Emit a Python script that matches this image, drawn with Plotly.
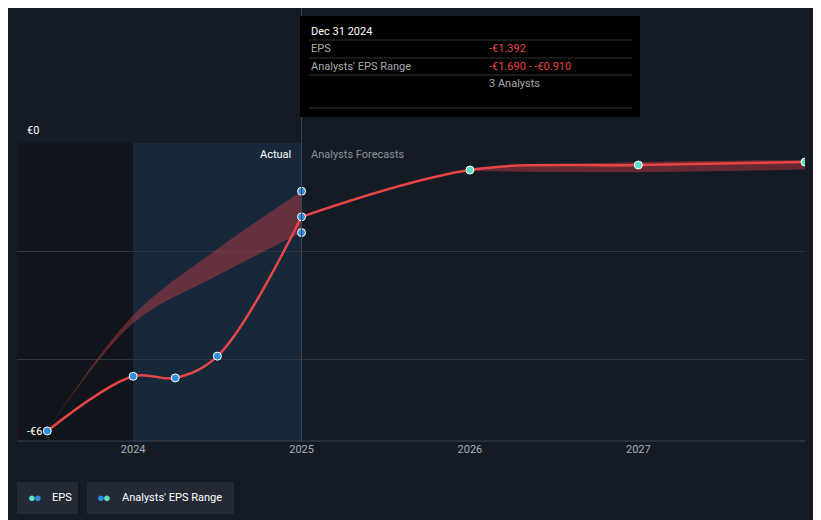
import plotly.graph_objects as go

act_x = [2023.49, 2024.0, 2024.25, 2024.5, 2025.0]
act_y = [-5.43, -4.40, -4.43, -4.02, -1.392]
fc_x = [2025.0, 2026.0, 2027.0, 2027.99]
fc_y = [-1.392, -0.51, -0.415, -0.36]
rng_x = [2023.49, 2024.0, 2024.5, 2025.0]
rng_hi = [-5.43, -3.25, -2.0, -0.91]
rng_lo = [-5.43, -3.4, -2.5, -1.69]
fc_rng_x = [2026.0, 2027.0, 2027.99]
fc_rng_hi = [-0.47, -0.36, -0.32]
fc_rng_lo = [-0.53, -0.55, -0.5]
tick_vals = [2024, 2025, 2026, 2027]
tick_text = ["2024", "2025", "2026", "2027"]

fig = go.Figure()
bg = "#151b24"
band = "rgba(200,60,70,0.45)"
fig.add_trace(go.Scatter(x=rng_x, y=rng_hi, mode="lines", line=dict(width=0, shape="spline"), hoverinfo="skip"))
fig.add_trace(go.Scatter(x=rng_x, y=rng_lo, mode="lines", line=dict(width=0, shape="spline"), fill="tonexty",
                         fillcolor=band, hoverinfo="skip"))
fig.add_trace(go.Scatter(x=fc_rng_x, y=fc_rng_hi, mode="lines", line=dict(width=0, shape="spline"), hoverinfo="skip"))
fig.add_trace(go.Scatter(x=fc_rng_x, y=fc_rng_lo, mode="lines", line=dict(width=0, shape="spline"), fill="tonexty",
                         fillcolor=band, hoverinfo="skip"))
fig.add_trace(go.Scatter(x=act_x, y=act_y, mode="lines", line=dict(color="#e84545", width=2.5, shape="spline")))
fig.add_trace(go.Scatter(x=fc_x, y=fc_y, mode="lines", line=dict(color="#e84545", width=2.5, shape="spline")))
fig.add_trace(go.Scatter(x=act_x + [2025.0, 2025.0], y=act_y + [rng_hi[3], rng_lo[3]], mode="markers",
                         marker=dict(color="#2f8fe0", size=8, line=dict(color="white", width=1))))
fig.add_trace(go.Scatter(x=fc_x[1:], y=fc_y[1:], mode="markers",
                         marker=dict(color="#5ee0c8", size=8, line=dict(color="white", width=1))))

W, H = 788, 298
def px(p): return (p - 17) / W
def py(p): return (441 - p) / H

shapes = [
    dict(type="rect", xref="x", yref="paper", x0=2023.0, x1=2024.0, y0=0, y1=1, fillcolor="#10151c", line_width=0, layer="below"),
    dict(type="rect", xref="x", yref="paper", x0=2024.0, x1=2025.0, y0=0, y1=1, fillcolor="#17283a", line_width=0, layer="below"),
    dict(type="line", xref="x", yref="paper", x0=2025.0, x1=2025.0, y0=0, y1=py(8), line=dict(color="#3a4552", width=1)),
    dict(type="line", xref="paper", yref="paper", x0=0, x1=1, y0=0, y1=0, line=dict(color="#3a4552", width=1)),
    dict(type="rect", xref="paper", yref="paper", x0=px(300), x1=px(640), y0=py(117), y1=py(16),
         fillcolor="black", line_width=0),
]
for yy in [40, 58, 75, 108]:
    shapes.append(dict(type="line", xref="paper", yref="paper", x0=px(309), x1=px(632),
                       y0=py(yy), y1=py(yy), line=dict(color="#333", width=1)))
shapes += [
    dict(type="rect", xref="paper", yref="paper", x0=0, x1=px(78), y0=py(514), y1=py(482), fillcolor="#232a35", line_width=0),
    dict(type="rect", xref="paper", yref="paper", x0=px(87), x1=px(234), y0=py(514), y1=py(482), fillcolor="#232a35", line_width=0),
]

def ann(x, y, text, color="#c8ccd2", size=11, xanchor="left"):
    return dict(xref="paper", yref="paper", x=px(x), y=py(y), text=text, showarrow=False,
                font=dict(color=color, size=size, family="Roboto"), xanchor=xanchor, yanchor="middle")

anns = [
    ann(309, 31, "Dec 31 2024", "white"),
    ann(309, 49, "EPS", "#aaa"), ann(487, 49, "-€1.392", "#e84545"),
    ann(309, 66, "Analysts' EPS Range", "#aaa"), ann(487, 66, "-€1.690 - -€0.910", "#e84545"),
    ann(487, 83, "3 Analysts", "#aaa"),
    ann(293, 154, "Actual", "white", xanchor="right"),
    ann(309, 154, "Analysts Forecasts", "#8a929c"),
    ann(25, 130, "€0", "white"), ann(25, 431, "-€6", "white"),
    ann(50, 497, "EPS", "white"), ann(120, 497, "Analysts' EPS Range", "white"),
    ann(26, 497, "<span style='color:#5ee0c8'>●</span>", size=13), ann(32, 497, "<span style='color:#2f8fe0'>●</span>", size=13),
    ann(95, 497, "<span style='color:#2f8fe0'>●</span>", size=13), ann(101, 497, "<span style='color:#5ee0c8'>●</span>", size=13),
]

fig.update_layout(
    width=821, height=520, paper_bgcolor=bg, plot_bgcolor=bg,
    margin=dict(l=9, r=24, t=135, b=87),
    xaxis=dict(range=[2023.31, 2027.99], tickvals=tick_vals, ticktext=tick_text, showgrid=False, zeroline=False,
               tickfont=dict(color="#aab0b8", size=11, family="Roboto"), ticks=""),
    yaxis=dict(range=[-5.62, 0], tickvals=[0, -2.04, -4.09], showticklabels=False, gridcolor="#2e3640", zeroline=False),
    shapes=shapes, annotations=anns, showlegend=False,
)
fig.write_html("out.html")
